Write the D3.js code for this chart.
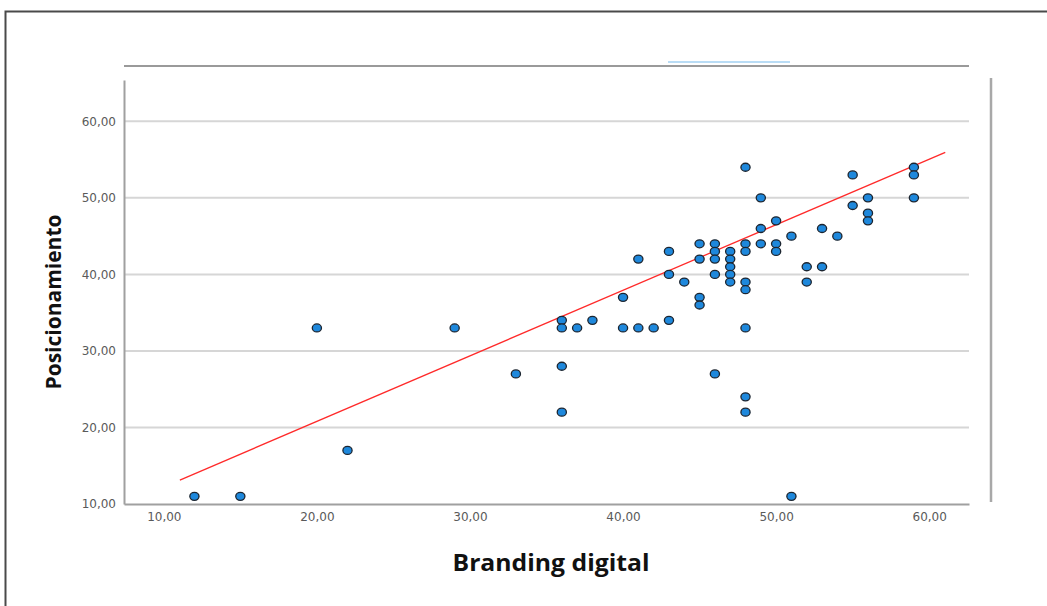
<!DOCTYPE html>
<meta charset="utf-8">
<script src="https://d3js.org/d3.v7.min.js"></script>
<style>
  body { margin: 0; background: #fff; }
  .tick text { font-family: "DejaVu Sans", sans-serif; font-size: 12px; fill: #5a5a5a; }
  .title { font-family: "Open Sans", Lato, sans-serif; font-weight: bold; fill: #111; }
</style>
<div id="chart"></div>
<script>

// Branding digital (x) vs Posicionamiento (y)
var branding = [12,15,20,22,29,33,36,36,36,36,37,38,40,40,41,41,42,43,43,43,44,45,45,45,45,
  46,46,46,46,46,47,47,47,47,47,48,48,48,48,48,48,48,48,49,49,49,50,50,50,51,51,52,52,53,53,54,
  55,55,56,56,56,59,59,59];
var posicion = [11,11,33,17,33,27,34,33,28,22,33,34,37,33,42,33,33,43,40,34,39,44,42,37,36,
  44,43,42,40,27,43,42,41,40,39,54,44,43,39,38,33,24,22,50,46,44,47,44,43,45,11,41,39,46,41,45,
  53,49,50,48,47,54,53,50];

// fit line ends (x, y)
var fitX = [11.05, 61.05];
var fitY = [13.13, 55.95];

var xTicks = [10, 20, 30, 40, 50, 60];
var yTicks = [10, 20, 30, 40, 50, 60];

var width = 1047, height = 606;

var svg = d3.select("#chart")
  .append("svg")
  .attr("width", width)
  .attr("height", height);

// outer frame (top and left only)
svg.append("path")
  .attr("d", "M5.5," + height + "V11.5H" + width)
  .attr("fill", "none")
  .attr("stroke", "#4a4a4a")
  .attr("stroke-width", 2);

var x = d3.scaleLinear().domain([7.4, 62.6]).range([124, 969]);
var y = d3.scaleLinear().domain([10, 65.4]).range([504, 80]);

var fmt = function(d) { return d3.format(".2f")(d).replace(".", ","); };

// top rule and small blue mark
svg.append("line")
  .attr("x1", 124).attr("x2", 969).attr("y1", 66).attr("y2", 66)
  .attr("stroke", "#9a9a9a").attr("stroke-width", 2);
svg.append("line")
  .attr("x1", 668).attr("x2", 790).attr("y1", 62).attr("y2", 62)
  .attr("stroke", "#b9dcf5").attr("stroke-width", 2);

// right frame line
svg.append("line")
  .attr("x1", 991).attr("x2", 991).attr("y1", 78).attr("y2", 502)
  .attr("stroke", "#a8a8a8").attr("stroke-width", 2.5);

// gridlines
svg.append("g")
  .selectAll("line")
  .data(yTicks.slice(1))
  .enter()
  .append("line")
  .attr("x1", x.range()[0]).attr("x2", x.range()[1])
  .attr("y1", function(d) { return y(d); })
  .attr("y2", function(d) { return y(d); })
  .attr("stroke", "#d6d6d6")
  .attr("stroke-width", 2);

// axes
var gx = svg.append("g")
  .attr("transform", "translate(0," + y(10) + ")")
  .call(d3.axisBottom(x).tickValues(xTicks).tickFormat(fmt).tickSize(0).tickPadding(8));
var gy = svg.append("g")
  .attr("transform", "translate(" + x.range()[0] + ",0)")
  .call(d3.axisLeft(y).tickValues(yTicks).tickFormat(fmt).tickSize(0).tickPadding(8));
svg.selectAll(".domain").attr("stroke", "#a0a0a0").attr("stroke-width", 2);

// fit line
svg.append("line")
  .attr("x1", x(fitX[0])).attr("y1", y(fitY[0]))
  .attr("x2", x(fitX[1])).attr("y2", y(fitY[1]))
  .attr("stroke", "#ff2a2a")
  .attr("stroke-width", 1.3);

// points
svg.append("g")
  .selectAll("ellipse")
  .data(branding.map(function(d, i) { return [d, posicion[i]]; }))
  .enter()
  .append("ellipse")
  .attr("cx", function(d) { return x(d[0]); })
  .attr("cy", function(d) { return y(d[1]); })
  .attr("rx", 4.6)
  .attr("ry", 4)
  .attr("fill", "#1e88dc")
  .attr("stroke", "#1c2530")
  .attr("stroke-width", 1.3);

// axis titles
svg.append("text")
  .attr("class", "title")
  .attr("x", 551).attr("y", 571)
  .attr("text-anchor", "middle")
  .attr("textLength", 197)
  .attr("lengthAdjust", "spacingAndGlyphs")
  .style("font-size", "23px")
  .text("Branding digital");

svg.append("text")
  .attr("class", "title")
  .attr("transform", "translate(61,302) rotate(-90)")
  .attr("text-anchor", "middle")
  .attr("textLength", 175)
  .attr("lengthAdjust", "spacingAndGlyphs")
  .style("font-size", "22px")
  .text("Posicionamiento");

</script>
